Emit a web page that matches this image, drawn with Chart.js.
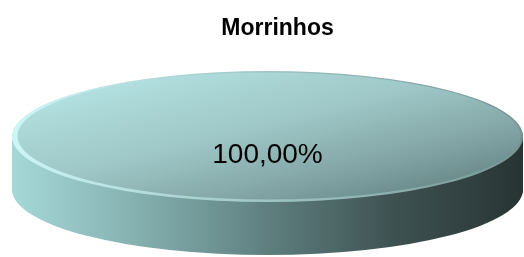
<!DOCTYPE html>
<html><head><meta charset="utf-8">
<script src="https://cdn.jsdelivr.net/npm/chart.js@4/dist/chart.umd.min.js"></script>
<style>html,body{margin:0;padding:0;background:#fff;}#wrap{width:524px;height:257px;position:relative;}</style>
</head><body><div id="wrap"><canvas id="c"></canvas></div>
<script>
const chartTitle = 'Morrinhos';
const categories = ['Morrinhos'];
const values = [100];

const FONT = '"Liberation Sans", Arial, sans-serif';

function pct(v, total) {
  return (v / total * 100).toFixed(2).replace('.', ',') + '%';
}

const pie3d = {
  id: 'pie3d',
  geom(chart, o) {
    const meta = chart.getDatasetMeta(0);
    const el0 = meta.data[0];
    const ca = chart.chartArea;
    const r = el0.outerRadius;
    const cx = el0.x, cy = el0.y;
    const tx = cx + o.shiftX, ty = (ca.top + ca.bottom) / 2;
    const rx = o.rx, ry = (ca.bottom - ca.top) / 2;
    return {meta, r, cx, cy, tx, ty, sx: rx / r, sy: ry / r, rx, ry};
  },
  beforeDatasetsDraw(chart, args, o) {
    const ctx = chart.ctx;
    const g = this.geom(chart, o);
    const drawAll = (fill) => {
      g.meta.data.forEach(el => {
        const orig = el.options;
        el.options = Object.assign({}, orig, {backgroundColor: fill, borderWidth: 0});
        el.draw(ctx);
        el.options = orig;
      });
    };
    const setT = (dx, dy, shrinkX, shrinkY) => {
      ctx.translate(g.tx + dx, g.ty + dy);
      ctx.scale((g.rx - shrinkX) / g.r, (g.ry - shrinkY) / g.r);
      ctx.translate(-g.cx, -g.cy);
    };
    // side
    for (let d = o.depth; d >= 1; d--) {
      ctx.save();
      setT(0, d, 0, 0);
      const gr = ctx.createLinearGradient(g.cx - g.r, 0, g.cx + g.r, 0);
      gr.addColorStop(0, '#a6d8d8');
      gr.addColorStop(0.25, '#84afaf');
      gr.addColorStop(0.5, '#5f7f7f');
      gr.addColorStop(0.75, '#3e5151');
      gr.addColorStop(1, '#283434');
      drawAll(gr);
      ctx.restore();
    }
    // rim highlight (bevel)
    ctx.save();
    setT(0, 0, 0, 0);
    const rg = ctx.createLinearGradient(g.cx - g.r, 0, g.cx + g.r, 0);
    rg.addColorStop(0, '#cdf6f6');
    rg.addColorStop(0.3, '#b0d8d8');
    rg.addColorStop(0.7, '#90b2b2');
    rg.addColorStop(1, '#769494');
    drawAll(rg);
    ctx.restore();
    // top face
    ctx.save();
    setT(1.5, -0.5, 4, 2);
    const toEl = (X, Y) => [g.cx + (X - g.tx) / g.sx, g.cy + (Y - g.ty) / g.sy];
    const [ax, ay] = toEl(g.tx - g.rx * 0.6, g.ty - g.ry);
    const [bx, by] = toEl(g.tx + g.rx, g.ty + g.ry * 0.6);
    const tg = ctx.createLinearGradient(ax, ay, bx, by);
    tg.addColorStop(0, '#b4e2e2');
    tg.addColorStop(0.45, '#9ec6c6');
    tg.addColorStop(0.8, '#7fa0a0');
    tg.addColorStop(1, '#668686');
    drawAll(tg);
    ctx.restore();
    return false;
  },
  afterDraw(chart, args, o) {
    const ctx = chart.ctx;
    const g = this.geom(chart, o);
    const ds = chart.data.datasets[0].data;
    const total = ds.reduce((a, b) => a + b, 0);
    g.meta.data.forEach((el, i) => {
      const p = el.getCenterPoint();
      const x = g.tx + (p.x - g.cx) * g.sx * o.labelFactor;
      const y = g.ty + (p.y - g.cy) * g.sy * o.labelFactor;
      ctx.save();
      ctx.font = '28px ' + FONT;
      ctx.fillStyle = '#000';
      ctx.textAlign = 'center';
      ctx.textBaseline = 'middle';
      ctx.fillText(pct(ds[i], total), x, y);
      ctx.restore();
    });
  }
};

new Chart(document.getElementById('c'), {
  type: 'pie',
  data: {
    labels: categories,
    datasets: [{data: values, backgroundColor: ['#9fc8c8'], borderWidth: 0, hoverOffset: 0}]
  },
  options: {
    responsive: true,
    maintainAspectRatio: false,
    animation: false,
    events: [],
    layout: {padding: {left: 31, right: 0, top: 0, bottom: 55}},
    plugins: {
      legend: {display: false},
      tooltip: {enabled: false},
      title: {
        display: true,
        text: chartTitle,
        color: '#000',
        font: {family: FONT, size: 23, weight: 'bold', lineHeight: 1.2},
        padding: {top: 15, bottom: 28.4}
      },
      pie3d: {shiftX: -10, rx: 255.5, depth: 53, labelFactor: 0.58}
    }
  },
  plugins: [pie3d]
});
</script>
</body></html>
